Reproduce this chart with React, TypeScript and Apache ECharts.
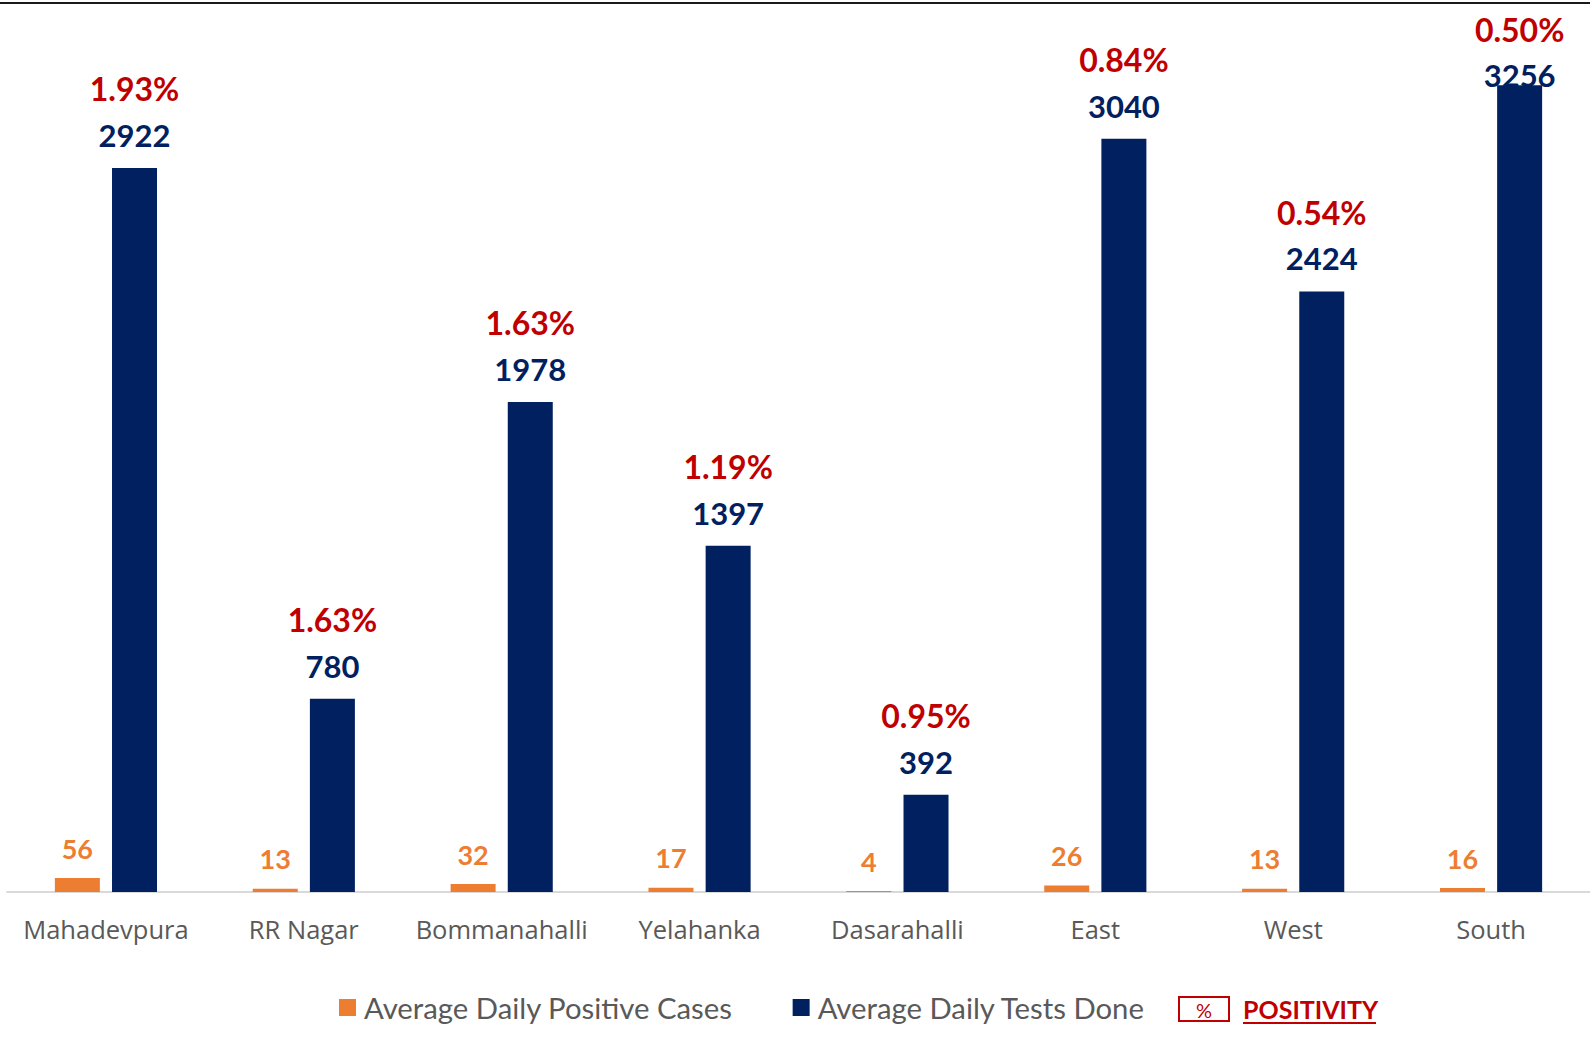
import React, { useEffect, useRef } from "react";
import * as echarts from "echarts";

const categories = ["Mahadevpura", "RR Nagar", "Bommanahalli", "Yelahanka", "Dasarahalli", "East", "West", "South"];
const positiveCases = [56, 13, 32, 17, 4, 26, 13, 16];
const testsDone = [2922, 780, 1978, 1397, 392, 3040, 2424, 3256];
const positivity = ["1.93%", "1.63%", "1.63%", "1.19%", "0.95%", "0.84%", "0.54%", "0.50%"];
const seriesNames = ["Average Daily Positive Cases", "Average Daily Tests Done"];
const positivityLegend = "POSITIVITY";

const ORANGE = "#ED7D31";
const NAVY = "#002060";
const RED = "#C00000";
const GRAY = "#595959";

export default function App() {
  const ref = useRef<HTMLDivElement>(null);
  useEffect(() => {
    if (!ref.current) return;
    const chart = echarts.init(ref.current, null, { renderer: "svg" });
    const lastIdx = testsDone.length - 1;
    const testsData = testsDone.map((v, i) =>
      i === lastIdx ? { value: v, label: { distance: -13 } } : { value: v }
    );
    chart.setOption({
      animation: false,
      grid: { left: 7, right: -5, top: 0, bottom: 155, containLabel: false },
      xAxis: {
        type: "category",
        data: categories,
        axisLine: { show: true, lineStyle: { color: "#D9D9D9", width: 2 } },
        axisTick: { show: false },
        axisLabel: { interval: 0, color: GRAY, fontFamily: "Open Sans", fontSize: 25.5, margin: 24 },
      },
      yAxis: { type: "value", min: 0, max: 3600, show: false, splitLine: { show: false } },
      legend: {
        left: 334,
        top: 988,
        itemWidth: 17,
        itemHeight: 17,
        itemGap: 60,
        icon: "rect",
        textStyle: { color: GRAY, fontFamily: "Lato", fontSize: 29.3, padding: [0, 0, 0, 3] },
        data: seriesNames,
      },
      series: [
        {
          name: seriesNames[0],
          type: "bar",
          data: positiveCases,
          barWidth: 45,
          barGap: "27%",
          itemStyle: { color: ORANGE },
          label: {
            show: true,
            position: "top",
            distance: 15,
            color: ORANGE,
            fontFamily: "Lato",
            fontWeight: "bold",
            fontSize: 27,
            lineHeight: 30,
          },
        },
        {
          name: seriesNames[1],
          type: "bar",
          data: testsData,
          barWidth: 45,
          itemStyle: { color: NAVY },
          label: {
            show: true,
            position: "top",
            distance: 10,
            formatter: (p: any) => `{p|${positivity[p.dataIndex]}}\n{v|${p.value}}`,
            rich: {
              p: { color: RED, fontFamily: "Lato", fontWeight: "bold", fontSize: 32, lineHeight: 46 },
              v: { color: NAVY, fontFamily: "Lato", fontWeight: "bold", fontSize: 31, lineHeight: 46 },
            },
          },
        },
      ],
      graphic: [
        { type: "line", shape: { x1: 0, y1: 3, x2: 1590, y2: 3 }, style: { stroke: "#1a1a1a", lineWidth: 2 } },
        {
          type: "rect",
          shape: { x: 1179, y: 997, width: 50, height: 24 },
          style: { fill: "none", stroke: RED, lineWidth: 2 },
        },
        {
          type: "text",
          x: 1204,
          y: 1010,
          style: { text: "%", fill: RED, font: "20px Lato", align: "center", verticalAlign: "middle" },
        },
        {
          type: "text",
          x: 1243,
          y: 1009,
          style: { text: positivityLegend, fill: RED, font: "bold 25px Lato", align: "left", verticalAlign: "middle" },
        },
        { type: "line", shape: { x1: 1243, y1: 1023, x2: 1376, y2: 1023 }, style: { stroke: RED, lineWidth: 2 } },
      ],
    });
    return () => chart.dispose();
  }, []);
  return <div ref={ref} style={{ width: 1590, height: 1047, position: "absolute", left: 0, top: 0 }} />;
}
